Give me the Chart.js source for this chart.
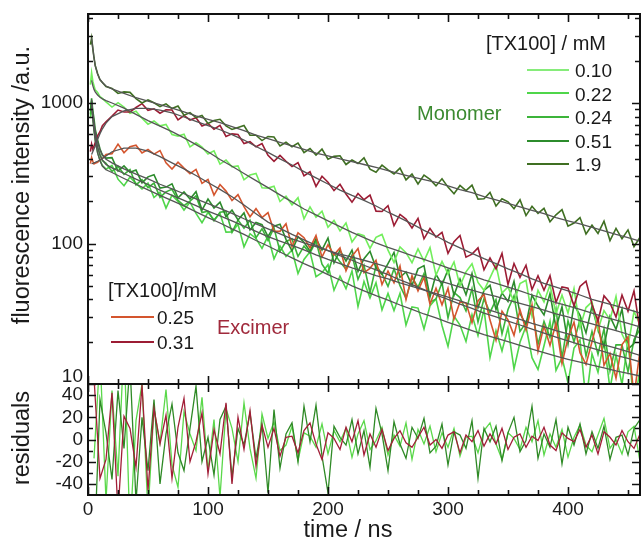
<!DOCTYPE html>
<html><head><meta charset="utf-8">
<script src="https://cdn.jsdelivr.net/npm/chart.js@4.4.0/dist/chart.umd.min.js"></script>
<style>
html,body{margin:0;padding:0;background:#fff;}
#wrap{position:relative;width:642px;height:545px;overflow:hidden;font-family:'Liberation Sans',Arial,sans-serif;color:#1a1a1a;}
canvas{position:absolute;left:0;}
.t{position:absolute;white-space:nowrap;line-height:1;transform:translateY(-50%);}
.sw{position:absolute;height:2px;}
.ax{position:absolute;white-space:nowrap;line-height:1;font-size:23.5px;}
</style></head><body>
<div id="wrap">
<canvas id="cTop" width="642" height="386" style="top:0"></canvas>
<canvas id="cBot" width="642" height="175" style="top:370px"></canvas>

<div class="ax" style="left:22px;top:185px;transform:translate(-50%,-50%) rotate(-90deg);">fluorescence intensity /a.u.</div>
<div class="ax" style="left:22px;top:438px;transform:translate(-50%,-50%) rotate(-90deg);">residuals</div>
<div class="ax" style="left:348px;top:530px;transform:translate(-50%,-50%);">time / ns</div>

<div class="t" style="left:486px;top:43px;font-size:20px;">[TX100] / mM</div>
<div class="sw" style="left:527px;top:69px;width:42px;background:#86ec7a;"></div><div class="t" style="left:575px;top:70px;font-size:19px;">0.10</div>
<div class="sw" style="left:527px;top:92px;width:42px;background:#4fd64a;"></div><div class="t" style="left:575px;top:94px;font-size:19px;">0.22</div>
<div class="sw" style="left:527px;top:116px;width:42px;background:#3cb43a;"></div><div class="t" style="left:575px;top:117px;font-size:19px;">0.24</div>
<div class="sw" style="left:527px;top:140px;width:42px;background:#2c8c2c;"></div><div class="t" style="left:575px;top:141px;font-size:19px;">0.51</div>
<div class="sw" style="left:527px;top:163px;width:42px;background:#3f6f22;"></div><div class="t" style="left:575px;top:164px;font-size:19px;">1.9</div>
<div class="t" style="left:417px;top:113px;font-size:20px;color:#3b8a30;">Monomer</div>

<div class="t" style="left:108px;top:290px;font-size:20px;">[TX100]/mM</div>
<div class="sw" style="left:111px;top:316px;width:43px;background:#d4552e;"></div><div class="t" style="left:157px;top:317px;font-size:19px;">0.25</div>
<div class="sw" style="left:111px;top:341px;width:43px;background:#9c1c34;"></div><div class="t" style="left:157px;top:342px;font-size:19px;">0.31</div>
<div class="t" style="left:217px;top:327px;font-size:20px;color:#a02a3c;">Excimer</div>
</div>
<script>
// ---------- time axes ----------
const timeData = [2,3,4,5,6,8,10,12,15,
 20,25,30,35,40,45,50,55,60,65,70,75,80,85,90,95,100,105,110,115,120,125,130,135,140,145,150,155,160,165,170,175,180,185,190,195,
 200,205,210,215,220,225,230,235,240,245,250,255,260,265,270,275,280,285,290,295,300,305,310,315,320,325,330,335,340,345,350,355,360,365,370,375,380,385,390,395,
 400,405,410,415,420,425,430,435,440,445,450,455,460];
const timeFit = [3,4,5,6,8,10,12,15,
 20,30,40,50,60,70,80,90,100,110,120,130,140,150,160,170,180,190,200,210,220,230,240,250,260,270,280,290,300,310,320,330,340,350,360,370,380,390,400,410,420,430,440,450,460];
const timeRes = [5,10,15,20,25,30,35,40,45,50,55,60,65,70,75,80,85,90,95,100,105,110,115,120,125,130,135,140,145,150,155,160,165,170,175,180,185,190,195,
 200,205,210,215,220,225,230,235,240,245,250,255,260,265,270,275,280,285,290,295,300,305,310,315,320,325,330,335,340,345,350,355,360,365,370,375,380,385,390,395,
 400,405,410,415,420,425,430,435,440,445,450,455,460];

// ---------- measured decays (counts) ----------
const mono19 = [2600,2900,2450,2100,1850,1620,1460,1400,1310,
 1270,1170,1200,1190,1075,1000,1052,1004,943,986,913,952,819,854,787,816,716,751,766,687,
 648,669,692,590,590,540,578,573,495,525,488,518,444,474,426,470,398,417,421,365,
 393,371,407,338,322,361,334,313,344,284,312,265,307,286,257,289,252,226,259,238,
 260,207,208,231,185,208,198,177,205,158,184,164,178,143,160,174,133,140,153,117,
 135,118,144,105,128,108,125,95,111];
const exc031 = [450,510,470,495,520,585,625,690,735,
 806,891,863,863,929,989,888,910,846,894,891,759,815,757,785,685,715,650,693,578,
 603,596,514,530,488,514,424,384,424,385,353,376,303,324,255,301,273,238,264,225,
 197,227,205,221,170,169,186,134,161,149,129,151,108,128,111,120,85,103,114,80,
 84,93,65,79,66,85,51,72,57.5,70,47,59,46.5,59,38,49,48,36,49.5,54,
 37,28,42.5,37.7,30,43,33,46,24];
const exc025 = [370,410,385,368,372,378,395,402,430,
 436,510,442,488,501,441,467,433,459,375,339,379,344,314,337,268,286,221,263,236,
 202,223,183,155,177,153,166,122,122,138,95,119,110,93,114,80,98,83,93,64,
 81,92,62,66.6,76,51,63.7,52.5,69,40,59,46,57.5,37,48,36.6,48,29,38.4,37.8,
 27.3,39,43.5,28.5,20.5,33,28.6,22.2,33.7,24.3,36.5,17.1,25.9,18.8,27,14,21.3,27.6,16.7,13.8,
 20,29.5,13.6,16.5,11,19.1,21.7,8.1,17.3];
const mono010 = [1350,1640,1430,1330,1240,1190,1110,1080,1020,
 936,1005,934,843,875,780,707,745,688,704,597,581,599,487,521,485,433,456,367,393,
 351,357,284,307,315,249,248,256,199,217,188.5,212,150,182,154,170,130.5,146,123,140,
 102.6,117.4,113.6,92.2,110.7,116,89.6,73.3,94.7,86,73,91.6,75,93.4,59.5,74.5,60.7,73.9,50,62.8,
 71.7,52.8,46.4,57,70.5,44.3,49,38.2,51.8,54.7,30.3,46.4,38.4,50.7,31.5,43,32,47.8,25.3,35,
 38.4,24.2,33.3,28.6,42,22.7,18.5,32.8,26.6];
const mono051 = [880,1080,880,770,650,545,470,425,405,
 408,328,357,321,333,270,298,309,248,252,266,211.5,233,207,234,173,207,179,197,155,
 173,147,165,125,141,136,112,133,137,107,88.5,112,102,88.3,108,90,109.5,72.7,89.5,75,
 89.8,63.3,78,88,67.2,60.2,71.9,86.4,57.5,62.7,50.4,66,69.6,41.6,60.3,51,65,42.9,55.9,43.2,
 61,35,46.3,50.4,33.9,44.5,38.7,53.8,31.7,26.4,43,35.9,31,44,25.1,35.5,19.3,36.8,30.8,23.1,
 35.8,24.3,18.4,30.3,24.5,34.1,17.7,19.4,28.7];
const mono024 = [830,1030,840,690,595,485,430,390,372,
 326,354,311,336,261,285,250,269,213,233,243,203,186,200.6,218,166,170,145,167,169,
 120,147,128.5,146.5,110,127.4,105,129,87.9,103.5,107.8,81,95.7,85.5,104,71.3,61.6,85.2,74,65.7,
 82.7,55.6,69.8,44.8,69.6,61.1,49.5,66.2,50.1,40.7,57.3,48.8,61,38.1,40.3,52.7,29.5,44.8,41.2,33.1,
 47.7,27.6,40.4,32.3,39.8,22.7,33.9,42.4,23.7,27.3,34.4,19.1,27.9,21.5,34.2,15.2,28.2,19.9,28.9,15.8,
 23.6,16.3,24.7,12.4,19,19,12.2,20.7,24.6];
const mono022 = [780,980,790,640,545,445,392,358,338,
 359,287,258,297,268,245,269,212.5,232,178.7,220.8,199.6,173,197,163.6,140.8,166.3,147.4,163.7,120.4,
 120.7,137.2,94.7,117.5,108.6,92.3,113,77.8,96,81,89.9,61.1,77,87.4,58.1,62,70.7,46.5,58.5,47.7,
 63.8,35.6,53.6,41,52.5,33.7,44.1,33.3,44.2,26.3,35.4,34.7,24.6,36,40.5,26.1,18.5,30.4,26.3,20.1,
 31.1,22.1,34,15.4,24,17.2,25.2,12.8,19.8,25.8,15.4,12.7,18.7,27.9,12.5,15.4,10.2,18,20.6,7.5,
 16.4,12.1,20.3,9.2,16.1,9.9,20.3,7,12.6];

// ---------- fitted curves ----------
const fit19 = [2900,2450,2100,1850,1600,1470,1400,1320,
 1260,1170,1090,1030,975,920,865,810,765,725,680,635,590,558,525,495,468,440,420,400,382,365,348,330,313,298,285,272,257,242,230,216,204,193,182,172,163,153,145,138,130,123,116,110,104];
const fit031 = [430,450,470,495,550,605,655,720,
 800,880,915,915,890,850,795,740,690,645,595,545,490,445,400,362,325,293,265,240,220,203,185,167,152,138,124,113,102,93,85,78,72,66,61,56,52,49,46,43,40,38,36,34,32];
const fit025 = [370,372,375,378,385,393,403,420,
 450,478,478,455,415,375,340,305,272,243,215,188,163,142,128,116,106,97,89,82,76,70,65,60,55,51,47,43,40,37,34.5,32,30,28,26.3,24.6,23,21.6,20.3,19.1,18,17,16,15.2,14.4];
const fit010 = [1450,1330,1250,1200,1140,1100,1070,1040,
 1000,920,830,750,685,625,565,505,450,396,355,315,280,250,222,198,176,160,145,132,120,110,101,94,88,82,77,72,67,63,59,55,52,49,46,43,40.5,38,36,34,32,30,28.5,27,25.5];
const fit051 = [1050,850,720,630,530,465,428,398,
 375,340,312,288,264,245,226,208,192,178,164,150,138,127,117,108,101,95,89,84,80,76,72,68,64.5,61,58,55,52,49,46.5,44,42,39.5,37.5,35.5,33.5,31.5,30,28.3,26.8,25.3,24,22.6,21.3];
const fit024 = [1000,810,680,590,485,425,392,365,
 345,315,287,263,240,220,203,186,170,157,145,133,122,112,104,97,90,83,77,72,67,63,59,56,52.5,49.5,46.5,44,41.5,39,36.5,34.5,32.5,30.5,28.8,27,25.5,24,22.7,21.4,20.2,19,18,17,16];
const fit022 = [950,770,630,540,440,388,356,335,
 320,290,264,241,220,202,185,168,153,140,127,116,105,96,87,79,72,66,60,55,50,46,42.5,39.5,36.5,34,31.5,29.5,27.5,25.7,24,22.5,21.2,20,18.8,17.7,16.7,15.8,15,14.3,13.6,13,12.4,11.9,11.4];

// ---------- residuals ----------
const resMonoDark = [-108,36,6,-36,44,-8,68,-56,20,-28,36,-40,5,32,-12,-28,10,48,-20,2,
 -32,18,30,-34,10,-5,24,-17,14,-48,27,-26,5,15,-20,30,-2,31,-15,-48,
 12,2,-5,18,-13,8,-25,28,5,-28,16,-4,-17,11,1,19,-12,-6,14,-23,
 7,4,-8,17,-35,10,-2,12,-19,6,20,-11,-1,30,-17,5,-7,18,-22,11,
 -5,14,-13,7,-8,12,-18,2,4,-14,10,18];
const resMonoLight = [-17,77,-55,44,-33,88,-83,17,50,-66,28,-3,45,-23,-43,25,5,-10,38,-28,
 18,-52,28,10,-20,33,-8,-35,23,1,16,-10,-5,12,-19,6,3,-7,14,-13,
 8,-2,10,-16,5,17,-9,-1,11,-14,4,-6,15,-18,9,-4,12,-11,6,-7,
 10,-15,2,3,-12,8,15,-4,-18,6,1,-9,11,-2,17,-14,5,-7,9,-16,
 2,13,-5,-11,4,19,-8,0,-13,7,12,-20];
const resExc = [56,-35,-18,42,-66,21,10,-25,49,-46,28,-4,22,-35,11,37,-20,-2,24,-31,
 9,-13,33,-40,20,-9,26,-24,13,-7,10,-15,2,3,-12,8,15,-4,-18,6,
 1,-9,11,-2,17,-14,5,-7,9,-10,1,8,-3,-7,2,11,-5,0,-8,4,
 7,-12,4,-2,8,-6,5,-4,10,-9,2,5,-7,3,-1,11,-5,-10,6,1,
 -2,9,-7,4,-13,7,2,-5,8,-2,-8,5];

// ---------- tick values ----------
const xTickValues = [0,25,50,75,100,125,150,175,200,225,250,275,300,325,350,375,400,425,450];
const xMajorTicks = [0,100,200,300,400];
const logTickValues = [10,20,30,40,50,60,70,80,90,100,200,300,400,500,600,700,800,900,1000,2000,3000,4000];
const logMajorTicks = [10,100,1000];
const resTickValues = [-40,-30,-20,-10,0,10,20,30,40];
const resMajorTicks = [-40,-20,0,20,40];

const FONT = "'Liberation Sans', Arial, sans-serif";
const TXT = '#1a1a1a';
const FITC = '#555555';

const pts = (xs, ys) => xs.map((x, i) => ({x: x, y: ys[i]}));
const ds = (xs, ys, color, w) => ({data: pts(xs, ys), borderColor: color, borderWidth: w, pointRadius: 0, fill: false, tension: 0});

function framePlugin(id, xMajor, yVals, yMajor) {
  return {
    id: id,
    afterDatasetsDraw(chart) {
      const ctx = chart.ctx, a = chart.chartArea, sx = chart.scales.x, sy = chart.scales.y;
      ctx.save();
      ctx.strokeStyle = '#111';
      ctx.lineWidth = 1.6;
      ctx.beginPath();
      for (const v of xTickValues) {
        const px = Math.round(sx.getPixelForValue(v)) + 0.5;
        const L = xMajor.includes(v) ? 8 : 5;
        ctx.moveTo(px, a.bottom); ctx.lineTo(px, a.bottom - L);
        ctx.moveTo(px, a.top); ctx.lineTo(px, a.top + L);
      }
      for (const v of yVals) {
        const py = Math.round(sy.getPixelForValue(v)) + 0.5;
        const L = yMajor.includes(v) ? 8 : 5;
        ctx.moveTo(a.left, py); ctx.lineTo(a.left + L, py);
        ctx.moveTo(a.right, py); ctx.lineTo(a.right - L, py);
      }
      ctx.stroke();
      ctx.lineWidth = 2;
      ctx.strokeRect(a.left, a.top, a.right - a.left, a.bottom - a.top);
      ctx.restore();
    }
  };
}

function fixY(s) { s.width = 88; s.paddingTop = 0; s.paddingBottom = 0; }
function fixX(s) { s.height = 50; s.paddingLeft = 0; s.paddingRight = 0; }

Chart.defaults.font.family = FONT;
Chart.defaults.color = TXT;

new Chart(document.getElementById('cTop'), {
  type: 'line',
  data: {datasets: [
    ds(timeFit, fit19, FITC, 1.3),
    ds(timeFit, fit031, FITC, 1.3),
    ds(timeFit, fit025, FITC, 1.3),
    ds(timeFit, fit010, FITC, 1.3),
    ds(timeFit, fit051, FITC, 1.3),
    ds(timeFit, fit024, FITC, 1.3),
    ds(timeFit, fit022, FITC, 1.3),
    ds(timeData, mono19, '#3f6f22', 1.6),
    ds(timeData, exc031, '#9c1c34', 1.6),
    ds(timeData, exc025, '#d4552e', 1.6),
    ds(timeData, mono010, '#72ee5c', 1.6),
    ds(timeData, mono051, '#2c8c2c', 1.6),
    ds(timeData, mono024, '#3cb43a', 1.6),
    ds(timeData, mono022, '#4fd64a', 1.6)
  ]},
  options: {
    responsive: false, animation: false, devicePixelRatio: 1,
    layout: {padding: {top: 14, right: 2, bottom: 2, left: 0}},
    plugins: {legend: {display: false}, tooltip: {enabled: false}},
    scales: {
      x: {type: 'linear', min: 0, max: 460, display: false},
      y: {
        type: 'logarithmic', min: 10, max: 4300,
        afterFit: fixY,
        grid: {display: false, drawTicks: false},
        border: {display: false},
        ticks: {
          autoSkip: false, padding: 5, color: TXT,
          font: {family: FONT, size: 19, lineHeight: 0.75},
          callback(v) {
            if (v === 10) return ['10', ''];
            return logMajorTicks.includes(v) ? String(v) : '';
          }
        }
      }
    }
  },
  plugins: [framePlugin('frameTop', xMajorTicks, logTickValues, logMajorTicks)]
});

new Chart(document.getElementById('cBot'), {
  type: 'line',
  data: {datasets: [
    ds(timeRes, resExc, '#a21f38', 1.3),
    ds(timeRes, resMonoDark, '#2f8a26', 1.3),
    ds(timeRes, resMonoLight, '#5ad84a', 1.3)
  ]},
  options: {
    responsive: false, animation: false, devicePixelRatio: 1,
    layout: {padding: {top: 14, right: 2, bottom: 0, left: 0}},
    plugins: {legend: {display: false}, tooltip: {enabled: false}},
    scales: {
      x: {
        type: 'linear', min: 0, max: 460,
        afterFit: fixX,
        grid: {display: false, drawTicks: false},
        border: {display: false},
        ticks: {
          stepSize: 25, autoSkip: false, maxRotation: 0, padding: 3, color: TXT,
          font: {family: FONT, size: 19},
          callback(v) { return xMajorTicks.includes(v) ? String(v) : ''; }
        }
      },
      y: {
        type: 'linear', min: -50, max: 50,
        afterFit: fixY,
        grid: {display: false, drawTicks: false},
        border: {display: false},
        ticks: {
          stepSize: 10, autoSkip: false, padding: 5, color: TXT,
          font: {family: FONT, size: 19},
          callback(v) { return resMajorTicks.includes(v) ? String(v) : ''; }
        }
      }
    }
  },
  plugins: [framePlugin('frameBot', xMajorTicks, resTickValues, resMajorTicks)]
});
</script>
</body></html>
